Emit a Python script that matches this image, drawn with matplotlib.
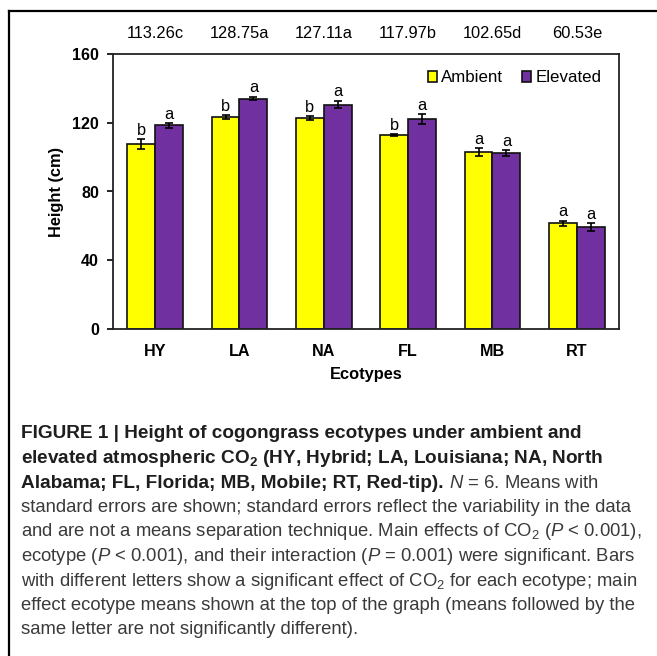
import numpy as np
import matplotlib
matplotlib.use("Agg")
import matplotlib.pyplot as plt
from matplotlib.lines import Line2D

plt.rcParams['font.family'] = ['Liberation Sans', 'DejaVu Sans']
plt.rcParams['mathtext.fontset'] = 'custom'
plt.rcParams['mathtext.rm'] = 'Liberation Sans'
plt.rcParams['mathtext.it'] = 'Liberation Sans:italic'
plt.rcParams['mathtext.bf'] = 'Liberation Sans:bold'

# data
ecotypes = ['HY', 'LA', 'NA', 'FL', 'MB', 'RT']
ambient = [107.6, 123.1, 122.7, 112.8, 102.9, 61.6]
elevated = [118.4, 134.1, 130.6, 121.9, 102.3, 59.1]
ambient_se = [2.8, 1.2, 1.2, 0.6, 2.3, 1.5]
elevated_se = [1.2, 1.0, 2.3, 2.9, 1.7, 2.3]
ambient_let = ['b', 'b', 'b', 'b', 'a', 'a']
elevated_let = ['a', 'a', 'a', 'a', 'a', 'a']
main_means = ['113.26c', '128.75a', '127.11a', '117.97b', '102.65d', '60.53e']

W, H = 657, 656
fig = plt.figure(figsize=(W / 100, H / 100), dpi=100)
ax = fig.add_axes([113 / W, 1 - 329 / H, 506 / W, 275 / H])

x = np.arange(len(ecotypes))
bw = 0.33
b1 = ax.bar(x - bw / 2, ambient, bw, color='#ffff00', edgecolor='#111111', linewidth=1.2,
            label='Ambient', zorder=2)
b2 = ax.bar(x + bw / 2, elevated, bw, color='#7030a0', edgecolor='#111111', linewidth=1.2,
            label='Elevated', zorder=2)
ax.errorbar(x - bw / 2, ambient, yerr=ambient_se, fmt='none', ecolor='black',
            elinewidth=1.2, capsize=3, capthick=1.2, zorder=3)
ax.errorbar(x + bw / 2, elevated, yerr=elevated_se, fmt='none', ecolor='black',
            elinewidth=1.2, capsize=3, capthick=1.2, zorder=3)

for i in range(len(ecotypes)):
    ax.text(x[i] - bw / 2, ambient[i] + ambient_se[i] + 2.5, ambient_let[i],
            ha='center', va='baseline', fontsize=11.8)
    ax.text(x[i] + bw / 2, elevated[i] + elevated_se[i] + 2.5, elevated_let[i],
            ha='center', va='baseline', fontsize=11.8)
    ax.text(x[i], 1.076, main_means[i], transform=ax.get_xaxis_transform(),
            ha='center', va='center', fontsize=11.8)

ax.set_xlim(-0.5, len(ecotypes) - 0.5)
ax.set_ylim(0, 160)
ax.set_yticks([0, 40, 80, 120, 160])
ax.set_xticks(x)
ax.set_xticklabels(ecotypes, fontweight='bold', fontsize=11.6)
for lab in ax.get_yticklabels():
    lab.set_fontweight('bold')
    lab.set_fontsize(11.6)
ax.tick_params(axis='x', length=0, pad=11)
ax.tick_params(axis='y', length=4, width=1.2, pad=6, direction='out')
for s in ax.spines.values():
    s.set_linewidth(1.3)
    s.set_color('#222222')

ax.text(-0.111, 0.5, 'Height (cm)', transform=ax.transAxes, rotation=90,
        ha='center', va='center', fontweight='bold', fontsize=11.8)
ax.text(0.5, -0.164, 'Ecotypes', transform=ax.transAxes,
        ha='center', va='center', fontweight='bold', fontsize=11.8)

ax.legend(loc='center right', bbox_to_anchor=(0.965, 0.913), ncol=2, frameon=False,
          fontsize=12.2, handlelength=0.55, handleheight=0.55, handletextpad=0.25,
          columnspacing=1.1, borderpad=0, borderaxespad=0)

# frame lines at left and top
fig.add_artist(Line2D([8.5 / W, 8.5 / W], [0, 1 - 11 / H], color='black', lw=1.6))
fig.add_artist(Line2D([8.5 / W, 1], [1 - 11 / H, 1 - 11 / H], color='black', lw=1.6))

# caption
bold_size = 13.7
reg_size = 13.3
bold_c = '#1e1e1e'
reg_c = '#3a3a3a'
lines = [
    [('FIGURE 1 | Height of cogongrass ecotypes under ambient and', 'bold')],
    [(r'elevated atmospheric CO$_\mathbf{2}$ (HY, Hybrid; LA, Louisiana; NA, North', 'bold')],
    [('Alabama; FL, Florida; MB, Mobile; RT, Red-tip).', 'bold'),
     (r'$N$ = 6. Means with', 'normal')],
    [('standard errors are shown; standard errors reflect the variability in the data', 'normal')],
    [(r'and are not a means separation technique. Main effects of CO$_2$ ($P$ < 0.001),', 'normal')],
    [(r'ecotype ($P$ < 0.001), and their interaction ($P$ = 0.001) were significant. Bars', 'normal')],
    [(r'with different letters show a significant effect of CO$_2$ for each ecotype; main', 'normal')],
    [('effect ecotype means shown at the top of the graph (means followed by the', 'normal')],
    [('same letter are not significantly different).', 'normal')],
]
renderer = fig.canvas.get_renderer()
space_px = 0.278 * reg_size * 100 / 72
y0 = 434
dy = 24.5
for k, parts in enumerate(lines):
    xp = 21
    for s, wt in parts:
        bold = wt == 'bold'
        t = fig.text(xp / W, 1 - (y0 + k * dy) / H, s,
                     fontsize=bold_size if bold else reg_size, fontweight=wt,
                     color=bold_c if bold else reg_c, ha='left', va='center')
        bb = t.get_window_extent(renderer)
        xp += bb.width + space_px

fig.savefig('out.png', dpi=100)
